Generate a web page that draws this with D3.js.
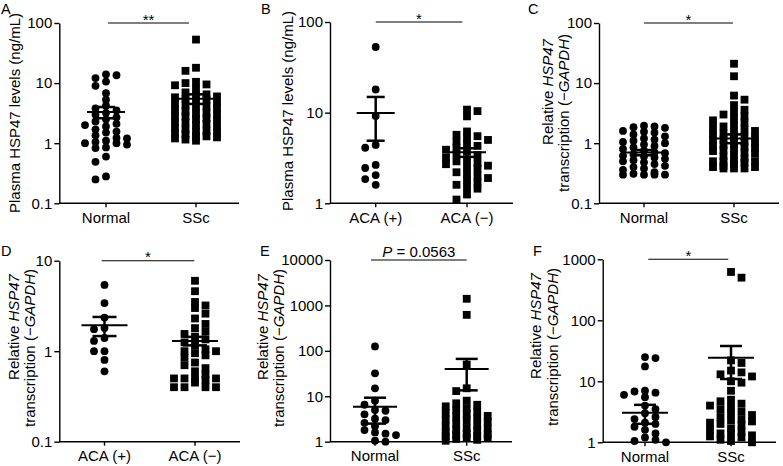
<!DOCTYPE html>
<html><head><meta charset="utf-8">
<script src="https://cdn.jsdelivr.net/npm/d3@7"></script>
<style>
body{margin:0;background:#fff}
text{font-family:"Liberation Sans",Arial,Helvetica,sans-serif;fill:#000}
</style>
</head><body>
<svg id="chart" width="783" height="466"></svg>
<script>
// ---------------- DATA ----------------
const catsNormalSSc = ["Normal", "SSc"];
const catsACA = ["ACA (+)", "ACA (\u2212)"];

// Panel A: plasma HSP47 (ng/mL)
const aNormal = [14.0, 13.5, 12.1, 10.6, 9.0, 6.8, 5.3, 4.2, 3.8, 3.5, 3.2, 3.0, 2.7, 2.5, 2.3, 2.1, 2.0, 1.9, 1.7, 1.56, 1.5, 1.35, 1.22, 1.2, 1.1, 1.05, 1.0, 1.0, 0.95, 0.85, 0.83, 0.6, 0.49, 0.28, 0.25];
const aSSc = [53, 18, 16, 10.5, 10, 9.5, 9.2, 8, 7, 6.5, 6.2, 6, 5.8, 5.5, 5.3, 5, 4.8, 4.5, 4.3, 4.1, 4, 3.8, 3.6, 3.4, 3.2, 3.1, 3, 2.9, 2.8, 2.6, 2.5, 2.4, 2.3, 2.2, 2.1, 2, 1.9, 1.8, 1.7, 1.6, 1.55, 1.5, 1.45, 1.4, 1.3, 1.3, 1.25, 1.2, 1.15, 1.1];
const aMean = [3.3, 5.5];
const aSem = [0.7, 1.0];

// Panel B: plasma HSP47 by ACA
const bACApos = [53, 18, 9.2, 4.4, 4.1, 2.65, 2.45, 2.05, 1.85, 1.6];
const bACAneg = [10.8, 10.4, 9.1, 6.2, 5.7, 5.5, 5.3, 5.0, 4.8, 4.5, 4.3, 4.1, 3.9, 3.7, 3.5, 3.4, 3.2, 3.0, 2.9, 2.8, 2.7, 2.6, 2.5, 2.4, 2.2, 2.1, 2.0, 1.9, 1.8, 1.7, 1.6, 1.5, 1.45, 1.25, 1.1];
const bMean = [9.9, 3.65];
const bSem = [5.0, 0.4];

// Panel C: relative HSP47 transcription
const cNormal = [1.95, 1.9, 1.85, 1.8, 1.6, 1.55, 1.5, 1.4, 1.3, 1.2, 1.15, 1.1, 1.05, 1.0, 0.95, 0.9, 0.85, 0.8, 0.75, 0.7, 0.68, 0.65, 0.62, 0.6, 0.58, 0.55, 0.52, 0.5, 0.48, 0.45, 0.42, 0.4, 0.38, 0.36, 0.33, 0.31, 0.3, 0.3, 0.3, 0.3];
const cSSc = [21, 13, 6.2, 5.3, 4.3, 3.6, 3.3, 3.0, 2.8, 2.6, 2.4, 2.2, 2.0, 1.9, 1.8, 1.7, 1.6, 1.5, 1.45, 1.4, 1.3, 1.25, 1.2, 1.15, 1.1, 1.05, 1.0, 0.97, 0.93, 0.9, 0.87, 0.83, 0.8, 0.77, 0.74, 0.7, 0.67, 0.63, 0.6, 0.55, 0.5, 0.5, 0.5, 0.5, 0.48, 0.45, 0.42, 0.4, 0.4, 0.38, 0.38, 0.38];
const cMean = [0.70, 1.2];
const cSem = [0.07, 0.2];

// Panel D: relative transcription by ACA
const dACApos = [5.4, 3.4, 2.35, 1.8, 1.75, 1.4, 1.3, 1.0, 1.0, 0.8, 0.6];
const dACAneg = [6.0, 4.6, 3.5, 3.2, 3.0, 2.6, 2.3, 2.0, 1.8, 1.65, 1.55, 1.45, 1.35, 1.25, 1.15, 1.05, 1.0, 1.0, 0.95, 0.9, 0.85, 0.75, 0.7, 0.65, 0.6, 0.55, 0.5, 0.5, 0.5, 0.5, 0.48, 0.45, 0.4, 0.4, 0.4, 0.4];
const dMean = [1.93, 1.3];
const dSem = [0.46, 0.14];

// Panel E
const eNormal = [125, 32, 15, 8, 6.5, 5, 4.8, 4, 3.2, 3.0, 2.6, 2.2, 1.8, 1.6, 1.5, 1.4, 1.05, 1.0];
const eSSc = [1400, 620, 50, 15, 13, 8, 7, 6.5, 6, 5.5, 5, 4.6, 4.3, 4, 3.7, 3.5, 3.3, 3.1, 2.9, 2.7, 2.5, 2.3, 2.2, 2.0, 1.9, 1.8, 1.7, 1.6, 1.5, 1.45, 1.4, 1.35, 1.3, 1.25, 1.2, 1.15, 1.1, 1.05];
const eMean = [5.9, 40];
const eSem = [3.4, 26.5];

// Panel F
const fNormal = [25, 24, 17.5, 7, 6.8, 6.5, 6, 5.5, 4, 3.5, 3, 2.6, 2.4, 2.1, 2.0, 1.8, 1.6, 1.4, 1.2, 1.1, 1.05, 1.0];
const fSSc = [620, 500, 22, 20, 15, 14, 13, 12, 10, 9.5, 7, 5, 4.7, 4.3, 4, 3.8, 3.5, 3.2, 3, 2.8, 2.6, 2.4, 2.3, 2.2, 2.1, 2, 1.9, 1.7, 1.6, 1.5, 1.4, 1.35, 1.3, 1.25, 1.2, 1.1, 1.05, 1.0];
const fMean = [3.06, 24.4];
const fSem = [1.05, 13.5];

// tick values
const ticks01to100 = [0.1, 1, 10, 100];
const ticks1to100 = [1, 10, 100];
const ticks01to10 = [0.1, 1, 10];
const ticks1to10000 = [1, 10, 100, 1000, 10000];
const ticks1to1000 = [1, 10, 100, 1000];

// texts
const titlePlasma = [[["Plasma HSP47 levels (ng/mL)", false]]];
const titleRel = [[["Relative ", false], ["HSP47", true]], [["transcription (\u2212", false], ["GAPDH", true], [")", false]]];
const sigLabels = ["**", "*", "*", "*", "P = 0.0563", "*"];

// ---------------- LAYOUT ----------------
const FONT = 15;
const panels = [
  {letter: "A", lx: 1, ly: 14, ax: 59.3, c1: 106, c2: 196, xEnd: 239, top: 23, bottom: 203.3, dom: [0.1, 100], ticks: ticks01to100,
   cats: catsNormalSSc, groups: [aNormal, aSSc], mean: aMean, sem: aSem, title: titlePlasma, tX: 15, tY: 113, sig: sigLabels[0], s1: 108, s2: 189, mh: 19, ch: 9},
  {letter: "B", lx: 261, ly: 14, ax: 330, c1: 375.7, c2: 467, xEnd: 513, top: 22, bottom: 203.3, dom: [1, 100], ticks: ticks1to100,
   cats: catsACA, groups: [bACApos, bACAneg], mean: bMean, sem: bSem, title: titlePlasma, tX: 287.5, tY: 111, sig: sigLabels[1], s1: 375.7, s2: 462.3, mh: 19, ch: 9},
  {letter: "C", lx: 528, ly: 14, ax: 599, c1: 644, c2: 734, xEnd: 779, top: 23, bottom: 203.3, dom: [0.1, 100], ticks: ticks01to100,
   cats: catsNormalSSc, groups: [cNormal, cSSc], mean: cMean, sem: cSem, title: titleRel, tX: 564, tY: 113, sig: sigLabels[2], s1: 644, s2: 733, mh: 23, ch: 11},
  {letter: "D", lx: 1, ly: 256, ax: 59.3, c1: 104.5, c2: 195, xEnd: 240, top: 260.7, bottom: 441.7, dom: [0.1, 10], ticks: ticks01to10,
   cats: catsACA, groups: [dACApos, dACAneg], mean: dMean, sem: dSem, title: titleRel, tX: 30, tY: 348, sig: sigLabels[3], s1: 101.7, s2: 194.3, mh: 23, ch: 12},
  {letter: "E", lx: 260, ly: 256, ax: 330, c1: 375, c2: 466.7, xEnd: 512, top: 260, bottom: 441.7, dom: [1, 10000], ticks: ticks1to10000,
   cats: catsNormalSSc, groups: [eNormal, eSSc], mean: eMean, sem: eSem, title: titleRel, tX: 279, tY: 348, sig: sigLabels[4], s1: 371, s2: 466.7, mh: 22, ch: 11},
  {letter: "F", lx: 533, ly: 256, ax: 602.7, c1: 645, c2: 731, xEnd: 776, top: 259.3, bottom: 442.3, dom: [1, 1000], ticks: ticks1to1000,
   cats: catsNormalSSc, groups: [fNormal, fSSc], mean: fMean, sem: fSem, title: titleRel, tX: 552.5, tY: 347, sig: sigLabels[5], s1: 648.3, s2: 728.3, mh: 23, ch: 11}
];

const svg = d3.select("#chart");
const STEP = 10.5, DIA = 7.8;

function swarm(vals, y, minD, maxK) {
  const sorted = vals.slice().sort((a, b) => b - a);
  const placed = [];
  const order = [0];
  for (let i = 1; i <= maxK; i++) order.push(-i, i);
  return sorted.map((v, idx) => {
    const py = y(v);
    let best = 0, bestD = -1;
    const ord = (idx % 2) ? order.map(k => -k) : order;
    for (const k of ord) {
      let d = Infinity;
      for (const p of placed) if (p.k === k) d = Math.min(d, Math.abs(p.py - py));
      if (d >= minD) { best = k; break; }
      if (d > bestD) { bestD = d; best = k; }
    }
    placed.push({k: best, py});
    return {v, k: best};
  });
}

panels.forEach(p => {
  const g = svg.append("g");
  const y = d3.scaleLog().domain(p.dom).range([p.bottom, p.top]);
  const x = d3.scalePoint().domain(p.cats).range([p.c1, p.c2]);

  // panel letter
  g.append("text").attr("x", p.lx).attr("y", p.ly).attr("font-size", 14.5).text(p.letter);

  // y axis
  const yAxis = d3.axisLeft(y).tickValues(p.ticks).tickFormat(d => String(d)).tickSize(5).tickSizeOuter(0).tickPadding(2);
  const ga = g.append("g").attr("transform", `translate(${p.ax},0)`).call(yAxis);
  ga.select(".domain").attr("stroke", "#000").attr("stroke-width", 1.4);
  ga.selectAll(".tick line").attr("stroke", "#000").attr("stroke-width", 1.4);
  ga.selectAll(".tick text").attr("font-size", FONT).attr("font-family", "Liberation Sans, Arial, sans-serif").attr("fill", "#000");

  // x axis
  g.append("line").attr("x1", p.ax).attr("x2", p.xEnd).attr("y1", p.bottom).attr("y2", p.bottom)
    .attr("stroke", "#000").attr("stroke-width", 1.4);
  p.cats.forEach(c => {
    g.append("line").attr("x1", x(c)).attr("x2", x(c)).attr("y1", p.bottom).attr("y2", p.bottom + 4)
      .attr("stroke", "#000").attr("stroke-width", 1.4);
    g.append("text").attr("x", x(c)).attr("y", p.bottom + 19.5).attr("text-anchor", "middle")
      .attr("font-size", FONT).text(c);
  });

  // y title
  const n = p.title.length;
  p.title.forEach((line, i) => {
    const cx = p.tX - (n - 1 - i) * 16.5;
    const cy = (n > 1 && i === 0) ? p.tY - 21 : p.tY;
    const t = g.append("text").attr("transform", `translate(${cx},${cy}) rotate(-90)`)
      .attr("text-anchor", "middle").attr("dy", "0.35em").attr("font-size", FONT);
    line.forEach(([s, it]) => t.append("tspan").attr("font-style", it ? "italic" : "normal").text(s));
  });

  // significance
  const sigY = p.top;
  g.append("line").attr("x1", p.s1).attr("x2", p.s2).attr("y1", sigY).attr("y2", sigY)
    .attr("stroke", "#000").attr("stroke-width", 1.1);
  const sx = (p.s1 + p.s2) / 2;
  if (p.sig.startsWith("P")) {
    const t = g.append("text").attr("x", sx).attr("y", sigY - 3).attr("text-anchor", "middle").attr("font-size", FONT);
    t.append("tspan").attr("font-style", "italic").text("P");
    t.append("tspan").text(p.sig.slice(1));
  } else {
    g.append("text").attr("x", sx).attr("y", sigY + 1.5).attr("text-anchor", "middle").attr("font-size", 15).text(p.sig);
  }

  // points
  p.groups.forEach((vals, gi) => {
    const cx = x(p.cats[gi]);
    const pts = swarm(vals, y, 6, 2);
    if (gi === 0) {
      g.selectAll(null).data(pts).enter().append("circle")
        .attr("cx", d => cx + d.k * STEP).attr("cy", d => y(d.v)).attr("r", DIA / 2).attr("fill", "#000");
    } else {
      g.selectAll(null).data(pts).enter().append("rect")
        .attr("x", d => cx + d.k * STEP - DIA / 2).attr("y", d => y(d.v) - DIA / 2)
        .attr("width", DIA).attr("height", DIA).attr("fill", "#000");
    }
    // mean and SEM
    const m = p.mean[gi], s = p.sem[gi];
    const yHi = y(m + s), yLo = y(Math.max(m - s, p.dom[0]));
    g.append("line").attr("x1", cx - p.mh).attr("x2", cx + p.mh).attr("y1", y(m)).attr("y2", y(m))
      .attr("stroke", "#000").attr("stroke-width", 2);
    g.append("line").attr("x1", cx).attr("x2", cx).attr("y1", yHi).attr("y2", yLo)
      .attr("stroke", "#000").attr("stroke-width", 2.5);
    [yHi, yLo].forEach(yy => g.append("line").attr("x1", cx - p.ch).attr("x2", cx + p.ch).attr("y1", yy).attr("y2", yy)
      .attr("stroke", "#000").attr("stroke-width", 2.5));
  });
});
</script>
</body></html>
